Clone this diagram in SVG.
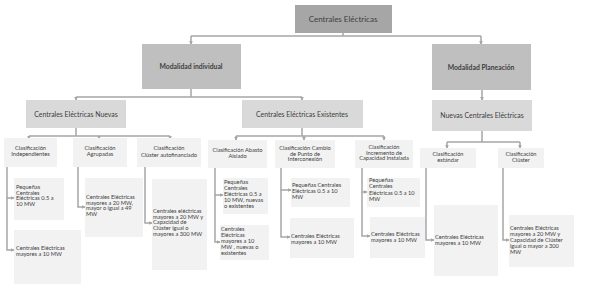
<svg xmlns="http://www.w3.org/2000/svg" width="589" height="284" viewBox="0 0 589 284">
<defs>
<marker id="ar" viewBox="0 0 6 6" refX="5" refY="3" markerWidth="4" markerHeight="4" orient="auto" markerUnits="userSpaceOnUse"><path d="M0,0 L6,3 L0,6 z" fill="#a6a6a6"/></marker>
<style>
.c{fill:none;stroke:#a6a6a6;stroke-width:1.5}
.t{font-family:Lato,"Open Sans","Liberation Sans",sans-serif;fill:#404040}
.b0{fill:#a6a6a6}
.b1{fill:#bfbfbf}
.b2{fill:#d9d9d9}
.b3{fill:#f2f2f2}
.s{font-size:5.7px}
.m{font-size:6.9px}
.k{font-weight:bold}
</style>
</defs>
<rect width="589" height="284" fill="#ffffff"/>
<g id="connectors">
<path class="c" d="M343,33 V36 M191,36 H481"/>
<path class="c" d="M191,36 V44" marker-end="url(#ar)"/>
<path class="c" d="M481,36 V44" marker-end="url(#ar)"/>
<path class="c" d="M191,89 V97 M76,97 H302"/>
<path class="c" d="M76,97 V100" marker-end="url(#ar)"/>
<path class="c" d="M302,97 V100" marker-end="url(#ar)"/>
<path class="c" d="M482,90 V100" marker-end="url(#ar)"/>
<path class="c" d="M76,128 V136 M29,136 H170"/>
<path class="c" d="M29,136 V139" marker-end="url(#ar)"/>
<path class="c" d="M99,136 V139" marker-end="url(#ar)"/>
<path class="c" d="M170,136 V139" marker-end="url(#ar)"/>
<path class="c" d="M302,128 V136 M236,136 H384"/>
<path class="c" d="M236,136 V140" marker-end="url(#ar)"/>
<path class="c" d="M304,136 V140" marker-end="url(#ar)"/>
<path class="c" d="M384,136 V140" marker-end="url(#ar)"/>
<path class="c" d="M482,131 V142 M447,142 H520"/>
<path class="c" d="M447,142 V148" marker-end="url(#ar)"/>
<path class="c" d="M520,142 V148" marker-end="url(#ar)"/>
<path class="c" d="M7,167 V198 H14" marker-end="url(#ar)"/>
<path class="c" d="M7,198 V250 H14" marker-end="url(#ar)"/>
<path class="c" d="M78,167 V207 H85" marker-end="url(#ar)"/>
<path class="c" d="M145,167 V223 H152" marker-end="url(#ar)"/>
<path class="c" d="M215,168 V195 H223" marker-end="url(#ar)"/>
<path class="c" d="M215,195 V242 H220" marker-end="url(#ar)"/>
<path class="c" d="M281,168 V190 H291" marker-end="url(#ar)"/>
<path class="c" d="M281,190 V237 H290" marker-end="url(#ar)"/>
<path class="c" d="M362,168 V192 H367" marker-end="url(#ar)"/>
<path class="c" d="M362,192 V236 H370" marker-end="url(#ar)"/>
<path class="c" d="M426,168 V240 H434" marker-end="url(#ar)"/>
<path class="c" d="M503,168 V240 H509" marker-end="url(#ar)"/>
</g>
<g id="n-root"><rect class="b0" x="295" y="5" width="97" height="28"/><text class="t" x="343" y="22" text-anchor="middle" font-size="8">Centrales Eléctricas</text></g>
<g id="n-indiv"><rect class="b1" x="142" y="44" width="99" height="45"/><text class="t k" x="191" y="68.5" text-anchor="middle" font-size="6.8">Modalidad individual</text></g>
<g id="n-plan"><rect class="b1" x="432" y="44" width="99" height="46"/><text class="t k" x="481" y="69.5" text-anchor="middle" font-size="6.8">Modalidad Planeación</text></g>
<g id="n-nuevas"><rect class="b2" x="26" y="100" width="100" height="28"/><text class="t m" x="76" y="116.5" text-anchor="middle">Centrales Eléctricas Nuevas</text></g>
<g id="n-exist"><rect class="b2" x="242" y="100" width="121" height="28"/><text class="t m" x="302" y="116.5" text-anchor="middle">Centrales  Eléctricas Existentes</text></g>
<g id="n-nuevas-plan"><rect class="b2" x="432" y="100" width="100" height="31"/><text class="t m" x="482" y="117.5" text-anchor="middle">Nuevas Centrales Eléctricas</text></g>
<g id="n-indep"><rect class="b3" x="4" y="138" width="53" height="29"/><text class="t s" x="30.5" y="150" text-anchor="middle"><tspan x="30.5">Clasificación</tspan><tspan x="30.5" dy="6">Independientes</tspan></text></g>
<g id="n-agrup"><rect class="b3" x="73" y="138" width="54" height="29"/><text class="t s" x="100" y="150" text-anchor="middle"><tspan x="100">Clasificación</tspan><tspan x="100" dy="6">Agrupadas</tspan></text></g>
<g id="n-cluster-auto"><rect class="b3" x="137" y="138" width="64" height="29"/><text class="t s" x="169" y="150" text-anchor="middle"><tspan x="169">Clasificación</tspan><tspan x="169" dy="6.5">Clúster autofinanciado</tspan></text></g>
<g id="n-abasto"><rect class="b3" x="208" y="140" width="59" height="28"/><text class="t s" x="237.5" y="152" text-anchor="middle"><tspan x="237.5">Clasificación Abasto</tspan><tspan x="237.5" dy="6">Aislado</tspan></text></g>
<g id="n-cambio"><rect class="b3" x="275" y="140" width="60" height="28"/><text class="t s" x="305" y="150" text-anchor="middle"><tspan x="305">Clasificación  Cambio</tspan><tspan x="305" dy="5.6">de Punto de</tspan><tspan x="305" dy="5.6">Interconexión</tspan></text></g>
<g id="n-incremento"><rect class="b3" x="355" y="140" width="58" height="28"/><text class="t s" x="384" y="149" text-anchor="middle"><tspan x="384">Clasificación</tspan><tspan x="384" dy="5.6">Incremento de</tspan><tspan x="384" dy="5.6">Capacidad Instalada</tspan></text></g>
<g id="n-estandar"><rect class="b3" x="420" y="148" width="56" height="20"/><text class="t s" x="448" y="156" text-anchor="middle"><tspan x="448">Clasificación</tspan><tspan x="448" dy="5.6">estándar</tspan></text></g>
<g id="n-cluster"><rect class="b3" x="498" y="148" width="46" height="20"/><text class="t s" x="521" y="156" text-anchor="middle"><tspan x="521">Clasificación</tspan><tspan x="521" dy="5.6">Clúster</tspan></text></g>
<g id="n-l1"><rect class="b3" x="14" y="178" width="50" height="42"/><text class="t s" x="16" y="189"><tspan x="16">Pequeñas</tspan><tspan x="16" dy="5.7">Centrales</tspan><tspan x="16" dy="5.7">Eléctricas 0.5 a</tspan><tspan x="16" dy="5.7">10 MW</tspan></text></g>
<g id="n-l2"><rect class="b3" x="14" y="230" width="67" height="54"/><text class="t s" x="16" y="250"><tspan x="16">Centrales Eléctricas</tspan><tspan x="16" dy="5.7">mayores a 10 MW</tspan></text></g>
<g id="n-l3"><rect class="b3" x="85" y="178" width="58" height="59"/><text class="t s" x="86" y="199"><tspan x="86">Centrales Eléctricas</tspan><tspan x="86" dy="5.7">mayores a 20 MW,</tspan><tspan x="86" dy="5.7">mayor o igual a 49</tspan><tspan x="86" dy="5.7">MW</tspan></text></g>
<g id="n-l4"><rect class="b3" x="152" y="179" width="55" height="91"/><text class="t s" x="153" y="213"><tspan x="153">Centrales eléctricas</tspan><tspan x="153" dy="5.7">mayores a 20 MW y</tspan><tspan x="153" dy="5.7">Capacidad de</tspan><tspan x="153" dy="5.7">Clúster igual o</tspan><tspan x="153" dy="5.7">mayores a 300 MW</tspan></text></g>
<g id="n-l5"><rect class="b3" x="223" y="178" width="45" height="36"/><text class="t s" x="224" y="184"><tspan x="224">Pequeñas</tspan><tspan x="224" dy="5.9">Centrales</tspan><tspan x="224" dy="5.9">Eléctricas 0.5 a</tspan><tspan x="224" dy="5.9">10 MW, nuevas</tspan><tspan x="224" dy="5.9">o existentes</tspan></text></g>
<g id="n-l6"><rect class="b3" x="220" y="225" width="49" height="35"/><text class="t s" x="221" y="231"><tspan x="221">Centrales</tspan><tspan x="221" dy="6">Eléctricas</tspan><tspan x="221" dy="6">mayores a 10</tspan><tspan x="221" dy="6">MW , nuevas o</tspan><tspan x="221" dy="6">existentes</tspan></text></g>
<g id="n-l7"><rect class="b3" x="291" y="178" width="59" height="29"/><text class="t s" x="292" y="187"><tspan x="292">Pequeñas Centrales</tspan><tspan x="292" dy="6">Eléctricas 0.5 a 10</tspan><tspan x="292" dy="6">MW</tspan></text></g>
<g id="n-l8"><rect class="b3" x="290" y="218" width="64" height="40"/><text class="t s" x="291" y="237.5"><tspan x="291">Centrales Eléctricas</tspan><tspan x="291" dy="6">mayores a 10 MW</tspan></text></g>
<g id="n-l9"><rect class="b3" x="367" y="178" width="53" height="29"/><text class="t s" x="369" y="182"><tspan x="369">Pequeñas</tspan><tspan x="369" dy="6.3">Centrales</tspan><tspan x="369" dy="6.3">Eléctricas 0.5 a 10</tspan><tspan x="369" dy="6.3">MW</tspan></text></g>
<g id="n-l10"><rect class="b3" x="370" y="217" width="55" height="41"/><text class="t s" x="371" y="236"><tspan x="371">Centrales Eléctricas</tspan><tspan x="371" dy="6">mayores a 10 MW</tspan></text></g>
<g id="n-l11"><rect class="b3" x="434" y="205" width="64" height="71"/><text class="t s" x="435" y="239"><tspan x="435">Centrales Eléctricas</tspan><tspan x="435" dy="6">mayores a 10 MW</tspan></text></g>
<g id="n-l12"><rect class="b3" x="509" y="215" width="65" height="52"/><text class="t s" x="510" y="229.5"><tspan x="510">Centrales Eléctricas</tspan><tspan x="510" dy="6">mayores a 20 MW y</tspan><tspan x="510" dy="6">Capacidad de Clúster</tspan><tspan x="510" dy="6">igual o mayor a 300</tspan><tspan x="510" dy="6">MW</tspan></text></g>
</svg>
